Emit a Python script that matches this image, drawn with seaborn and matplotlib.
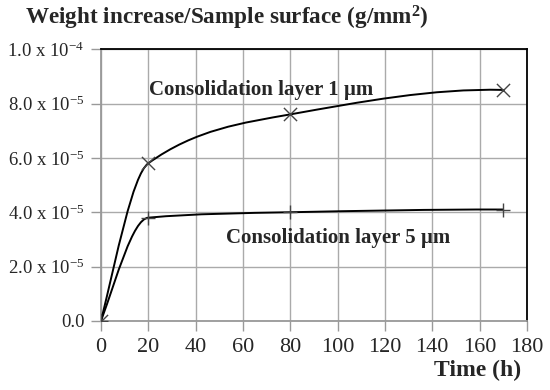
import numpy as np
import pandas as pd
import seaborn as sns
import matplotlib.pyplot as plt
from matplotlib.path import Path
from matplotlib.patches import PathPatch

# data
time_h = [0, 20, 80, 170]
layer_1um = [0.0, 5.8e-5, 7.6e-5, 8.5e-5]
layer_5um = [0.0, 3.8e-5, 4.0e-5, 4.1e-5]

x_ticks = [0, 20, 40, 60, 80, 100, 120, 140, 160, 180]
y_ticks = [0.0, 2e-5, 4e-5, 6e-5, 8e-5, 1e-4]
y_ticklabels = ["0.0", "2.0 x 10$^{-5}$", "4.0 x 10$^{-5}$", "6.0 x 10$^{-5}$",
                "8.0 x 10$^{-5}$", "1.0 x 10$^{-4}$"]

sns.set_style("white")
plt.rcParams['font.family'] = ['Liberation Serif', 'DejaVu Serif']
plt.rcParams['mathtext.fontset'] = 'custom'
plt.rcParams['mathtext.rm'] = 'Liberation Serif'
plt.rcParams['mathtext.it'] = 'Liberation Serif:italic'
plt.rcParams['mathtext.bf'] = 'Liberation Serif:bold'


def smooth_path(x, y):
    # monotone cubic (pchip-like) tangents, drawn as bezier segments
    x = np.asarray(x, float)
    y = np.asarray(y, float)
    h = np.diff(x)
    d = np.diff(y) / h
    n = len(x)
    m = np.zeros(n)
    for k in range(1, n - 1):
        if d[k - 1] * d[k] > 0:
            w1 = 2 * h[k] + h[k - 1]
            w2 = h[k] + 2 * h[k - 1]
            m[k] = (w1 + w2) / (w1 / d[k - 1] + w2 / d[k])
    m[0] = ((2 * h[0] + h[1]) * d[0] - h[0] * d[1]) / (h[0] + h[1])
    m[-1] = ((2 * h[-1] + h[-2]) * d[-1] - h[-1] * d[-2]) / (h[-1] + h[-2])
    verts = [(x[0], y[0])]
    codes = [Path.MOVETO]
    for k in range(n - 1):
        verts += [(x[k] + h[k] / 3, y[k] + m[k] * h[k] / 3),
                  (x[k + 1] - h[k] / 3, y[k + 1] - m[k + 1] * h[k] / 3),
                  (x[k + 1], y[k + 1])]
        codes += [Path.CURVE4] * 3
    return Path(verts, codes)


fig = plt.figure(figsize=(5.5, 3.9), dpi=100)
ax = fig.add_axes([0.1836, 0.177, 0.7745, 0.697])

for vals in [layer_1um, layer_5um]:
    ax.add_patch(PathPatch(smooth_path(time_h, vals), facecolor='none',
                           edgecolor='black', lw=1.4, zorder=3))

df1 = pd.DataFrame({'t': time_h, 'w': layer_1um})
df5 = pd.DataFrame({'t': time_h, 'w': layer_5um})
sns.scatterplot(data=df1, x='t', y='w', marker='x', s=90, color='#444444',
                linewidth=1.0, ax=ax, zorder=4)
sns.scatterplot(data=df5, x='t', y='w', marker='+', s=100, color='#444444',
                linewidth=1.0, ax=ax, zorder=4)

ax.set_xlim(0, 180)
ax.set_ylim(0, 1e-4)
ax.set_xticks(x_ticks)
ax.set_yticks(y_ticks)
ax.set_yticklabels(y_ticklabels)
ax.tick_params(axis='both', length=7, width=1, color='#999999', direction='out')
ax.tick_params(axis='y', left=True, labelsize=13.5, pad=5)
ax.tick_params(axis='x', bottom=True, labelsize=16, pad=5)
ax.grid(True, color='#aaaaaa', lw=1)
ax.set_axisbelow(True)
ax.set_xlabel('')
ax.set_ylabel('')
for side in ['top', 'right']:
    ax.spines[side].set_color('black')
    ax.spines[side].set_linewidth(1.3)
for side in ['left', 'bottom']:
    ax.spines[side].set_color('#999999')
    ax.spines[side].set_linewidth(1.3)

ax.text(67.6, 8.5e-5, 'Consolidation layer 1 µm', fontsize=15, fontweight='bold',
        ha='center', va='center')
ax.text(100, 3.06e-5, 'Consolidation layer 5 µm', fontsize=15, fontweight='bold',
        ha='center', va='center')

fig.text(25 / 550, 1 - 18 / 390, 'Weight increase/Sample surface (g/mm$^{\\mathbf{2}}$)',
         fontsize=16.7, fontweight='bold', ha='left', va='center')
fig.text(521 / 550, 1 - 370 / 390, 'Time (h)', fontsize=17, fontweight='bold',
         ha='right', va='center')

fig.savefig('out.png', dpi=100)
